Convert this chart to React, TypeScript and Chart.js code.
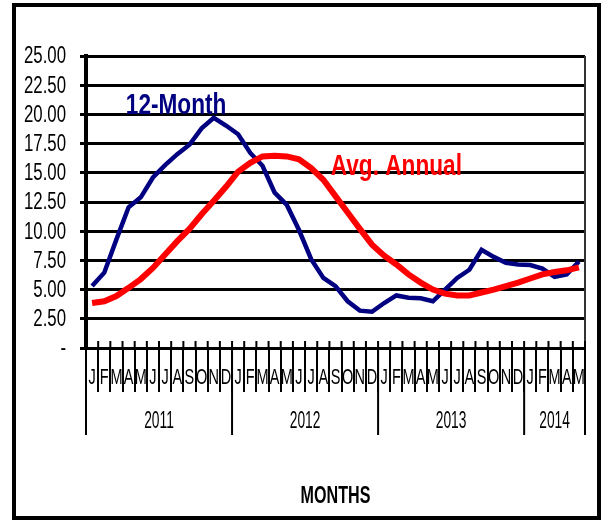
import React, { useEffect, useRef } from "react";
import { Chart, registerables } from "chart.js";

Chart.register(...registerables);

const years = ["2011", "2012", "2013", "2014"];
const monthsInYear = [12, 12, 12, 5];
const monthLetters = ["J", "F", "M", "A", "M", "J", "J", "A", "S", "O", "N", "D"];

const twelveMonth = [
  5.3, 6.45, 9.3, 12.05, 12.9, 14.6, 15.65, 16.6, 17.4, 18.8, 19.7, 19.05,
  18.3, 16.7, 15.6, 13.3, 12.25, 10.1, 7.6, 6.0, 5.3, 4.0, 3.2, 3.1,
  3.85, 4.5, 4.3, 4.25, 4.0, 5.0, 6.0, 6.7, 8.4, 7.8, 7.3, 7.15,
  7.1, 6.8, 6.1, 6.3, 7.4,
];
const avgAnnual = [
  3.85, 4.0, 4.45, 5.15, 5.9, 6.85, 8.0, 9.15, 10.2, 11.45, 12.6, 13.8,
  15.1, 15.85, 16.4, 16.45, 16.4, 16.15, 15.4, 14.4, 13.0, 11.6, 10.2, 8.85,
  7.9, 7.15, 6.3, 5.6, 5.0, 4.65, 4.5, 4.5, 4.75, 5.0, 5.3, 5.6,
  5.95, 6.3, 6.5, 6.65, 6.9,
];

const seriesNames = ["12-Month", "Avg. Annual"];
const seriesColors = ["#000080", "#ff0000"];
// annotation anchor positions in data units (category index, value)
const nameIndex = [6.9, 25.0];
const nameValue = [20.7, 15.5];

const yMin = 0;
const yMax = 25;
const yStep = 2.5;
const xTitle = "MONTHS";

const monthLabels: string[] = [];
monthsInYear.forEach((n) => {
  for (let i = 0; i < n; i++) monthLabels.push(monthLetters[i]);
});

const FAMILY = "'Liberation Sans', Arial, sans-serif";

const yLabel = (v: number) => (v === 0 ? "-" : v.toFixed(2));

function drawText(ctx: any, text: string, x: number, y: number, font: string, sx: number, align: string, color: string) {
  ctx.save();
  ctx.translate(x, y);
  ctx.scale(sx, 1);
  ctx.font = font;
  ctx.fillStyle = color;
  ctx.textAlign = align;
  ctx.textBaseline = "middle";
  ctx.fillText(text, 0, 0);
  ctx.restore();
}

const decorPlugin = {
  id: "decor",
  afterDraw(chart: any) {
    const { ctx, chartArea: ca, scales } = chart;
    const xs = scales.x;
    const ys = scales.y;
    const step = xs.getPixelForValue(1) - xs.getPixelForValue(0);
    const edge = (i: number) => xs.getPixelForValue(0) - step / 2 + i * step;
    const line = (x1: number, y1: number, x2: number, y2: number) => {
      ctx.beginPath();
      ctx.moveTo(x1, y1);
      ctx.lineTo(x2, y2);
      ctx.stroke();
    };
    ctx.save();
    // plot area right border
    ctx.strokeStyle = "#333";
    ctx.lineWidth = 2;
    line(ca.right, ca.top, ca.right, ca.bottom);
    // short ticks above the x axis
    ctx.strokeStyle = "#000";
    ctx.lineWidth = 2;
    for (let i = 0; i <= monthLabels.length; i++) {
      line(edge(i), ca.bottom - 7, edge(i), ca.bottom);
    }
    // y tick labels (narrow)
    ys.ticks.forEach((t: any) => {
      drawText(ctx, yLabel(t.value), ca.left - 20, ys.getPixelForValue(t.value) + 1, `23px ${FAMILY}`, 0.73, "right", "#000");
    });
    // month labels (narrow)
    monthLabels.forEach((m, i) => {
      drawText(ctx, m, xs.getPixelForValue(i), ca.bottom + 30, `22px ${FAMILY}`, 0.66, "center", "#000");
    });
    // year separators and labels
    let start = 0;
    const bounds = [0];
    monthsInYear.forEach((n) => {
      start += n;
      bounds.push(start);
    });
    bounds.forEach((b) => line(edge(b), ca.bottom, edge(b), ca.bottom + 87));
    years.forEach((yr, k) => {
      const cx = (edge(bounds[k]) + edge(bounds[k + 1])) / 2;
      drawText(ctx, yr, cx, ca.bottom + 74, `23px ${FAMILY}`, 0.6, "center", "#000");
    });
    // axis title
    drawText(ctx, xTitle, (ca.left + ca.right) / 2, ca.bottom + 149, `bold 23px ${FAMILY}`, 0.7, "center", "#000");
    // series names
    seriesNames.forEach((name, k) => {
      drawText(ctx, name, xs.getPixelForValue(nameIndex[k]), ys.getPixelForValue(nameValue[k]), `bold 29px ${FAMILY}`, 0.78, "center", seriesColors[k]);
    });
    // outer frame
    ctx.strokeStyle = "#000";
    ctx.lineWidth = 4;
    ctx.strokeRect(14, 5, 585, 513);
    ctx.restore();
  },
};

export default function App() {
  const ref = useRef<HTMLCanvasElement | null>(null);
  useEffect(() => {
    if (!ref.current) return;
    const chart = new Chart(ref.current, {
      type: "line",
      data: {
        labels: monthLabels,
        datasets: [
          {
            label: seriesNames[0],
            data: twelveMonth,
            borderColor: seriesColors[0],
            backgroundColor: seriesColors[0],
            borderWidth: 4.5,
            pointRadius: 0,
            tension: 0,
            order: 1,
          },
          {
            label: seriesNames[1],
            data: avgAnnual,
            borderColor: seriesColors[1],
            backgroundColor: seriesColors[1],
            borderWidth: 6,
            pointRadius: 0,
            tension: 0,
            order: 0,
          },
        ],
      },
      options: {
        animation: false,
        responsive: false,
        events: [],
        layout: { padding: { top: 56, right: 17, left: 0, bottom: 0 } },
        plugins: { legend: { display: false }, tooltip: { enabled: false } },
        scales: {
          x: {
            type: "category",
            offset: true,
            grid: {
              display: true,
              drawOnChartArea: false,
              offset: true,
              tickLength: 44,
              color: "#000",
              lineWidth: 2,
            },
            border: { display: true, color: "#000", width: 3 },
            ticks: { display: false, autoSkip: false, maxRotation: 0, minRotation: 0 },
            afterFit: (s: any) => {
              s.height = 174;
            },
          },
          y: {
            min: yMin,
            max: yMax,
            grid: { color: "#000", lineWidth: 3, tickLength: 6 },
            border: { display: true, color: "#000", width: 4 },
            ticks: { display: false, stepSize: yStep },
            afterFit: (s: any) => {
              s.width = 86;
            },
          },
        },
      },
      plugins: [decorPlugin],
    });
    return () => chart.destroy();
  }, []);
  return (
    <div style={{ position: "absolute", left: 0, top: 0, width: 602, height: 522, background: "#fff" }}>
      <canvas ref={ref} width={602} height={522} />
    </div>
  );
}
